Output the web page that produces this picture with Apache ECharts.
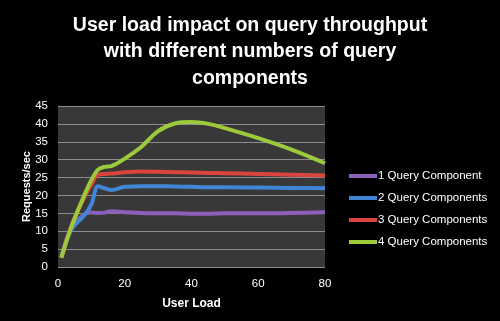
<!DOCTYPE html>
<html>
<head>
<meta charset="utf-8">
<script src="https://cdn.jsdelivr.net/npm/echarts@6/dist/echarts.min.js"></script>
<style>
html,body{margin:0;padding:0;background:#000;}
#chart{width:500px;height:321px;}
</style>
</head>
<body>
<div id="chart"></div>
<script>
var titleText = "User load impact on query throughput\nwith different numbers of query\ncomponents";
var xAxisName = "User Load";
var yAxisName = "Requests/sec";
var userLoad = [1, 4, 8, 10, 12, 14, 16, 20, 25, 30, 35, 40, 45, 50, 60, 70, 80];
var seriesNames = ["1 Query Component", "2 Query Components", "3 Query Components", "4 Query Components"];
var oneComponent   = [2.6, 11.0, 14.8, 15.2, 15.1, 15.2, 15.6, 15.3, 15.1, 15.0, 15.0, 14.9, 14.9, 15.0, 15.0, 15.1, 15.3];
var twoComponents  = [2.6, 10.5, 14.5, 17.5, 22.6, 22.0, 21.5, 22.4, 22.6, 22.6, 22.5, 22.4, 22.3, 22.3, 22.2, 22.1, 22.0];
var threeComponents= [2.6, 11.5, 19.7, 23.0, 25.8, 26.0, 26.1, 26.5, 26.7, 26.6, 26.5, 26.4, 26.3, 26.2, 26.0, 25.8, 25.6];
var fourComponents = [2.6, 11.2, 20.3, 24.3, 27.2, 28.0, 28.2, 30.3, 33.6, 38.0, 40.1, 40.5, 40.0, 38.8, 36.0, 32.8, 29.0];
var colors = ["#8b5fba", "#4186d6", "#d9453e", "#9cca3c"];

function pairs(vals){ return userLoad.map(function(x,i){ return [x, vals[i]]; }); }
var allVals = [oneComponent, twoComponents, threeComponents, fourComponents];

var chart = echarts.init(document.getElementById('chart'), null, {renderer:'canvas'});
var font = "'Liberation Sans', Arial, sans-serif";
chart.setOption({
  backgroundColor: '#000',
  animation: false,
  title: {
    text: titleText,
    left: 'center',
    top: 7,
    textStyle: {color:'#fff', fontSize:19.5, fontWeight:'bold', lineHeight:26.5, fontFamily: font}
  },
  legend: {
    orient: 'vertical',
    left: 344,
    top: 165,
    itemWidth: 28,
    itemHeight: 4,
    itemGap: 10,
    icon: 'rect',
    data: seriesNames,
    textStyle: {color:'#fff', fontSize:11.5, fontFamily: font, padding:[0,0,0,-4]}
  },
  grid: {
    left: 58, right: 175, top: 106, bottom: 54,
    show: true, backgroundColor: '#383838', borderWidth: 0
  },
  xAxis: {
    type: 'value', min: 0, max: 80, interval: 20,
    name: xAxisName, nameLocation: 'middle', nameGap: 31, nameMoveOverlap: false,
    nameTextStyle: {color:'#fff', fontSize:12, fontWeight:'bold', fontFamily: font},
    axisLine: {show:false}, axisTick: {show:false}, splitLine: {show:false},
    axisLabel: {color:'#fff', fontSize:11.5, margin:11, fontFamily: font}
  },
  yAxis: {
    type: 'value', min: 0, max: 45, interval: 5,
    name: yAxisName, nameLocation: 'middle', nameGap: 26, nameMoveOverlap: false,
    nameTextStyle: {color:'#fff', fontSize:11, fontWeight:'bold', fontFamily: font},
    axisLine: {show:false}, axisTick: {show:false},
    splitLine: {show:true, lineStyle:{color:'#8c8c8c', width:1}},
    axisLabel: {color:'#fff', fontSize:11.5, margin:10, fontFamily: font}
  },
  series: seriesNames.map(function(n, i){
    return {
      name: n, type: 'line', smooth: 0.35, showSymbol: false,
      data: pairs(allVals[i]),
      itemStyle: {color: colors[i]},
      lineStyle: {color: colors[i], width: 4}
    };
  })
});
</script>
</body>
</html>
